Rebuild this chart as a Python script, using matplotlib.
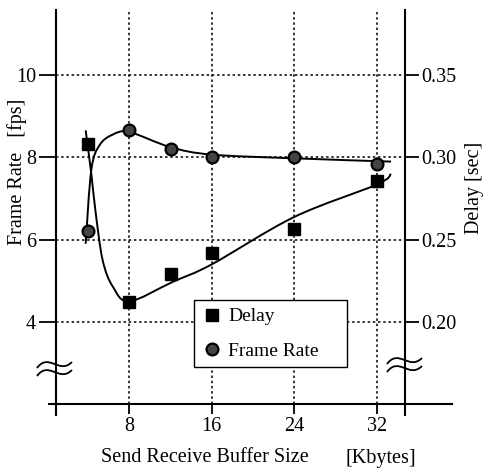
import matplotlib
matplotlib.use("Agg")
import matplotlib.pyplot as plt
from matplotlib.path import Path
from matplotlib.patches import PathPatch

plt.rcParams['font.family'] = ['Liberation Serif', 'DejaVu Serif']

# measured points
buffer_kb = [4, 8, 12, 16, 24, 32]
frame_rate = [6.2, 8.67, 8.2, 8.02, 8.0, 7.85]
delay = [0.308, 0.212, 0.229, 0.2416, 0.2567, 0.286]

# hand drawn fit curves (knots)
fr_fit_x = [3.75, 4.3, 5.1, 6.4, 8, 12, 16, 24, 33.4]
fr_fit_y = [5.9, 7.7, 8.3, 8.56, 8.62, 8.25, 8.07, 7.98, 7.9]
delay_fit_x = [3.75, 4.3, 4.7, 5.4, 6.4, 8, 12.2, 16, 24, 32, 33.4]
delay_fit_y = [0.3165, 0.29, 0.2675, 0.2375, 0.2213, 0.2125, 0.2243, 0.235, 0.2638, 0.2835, 0.29]

x_ticks = [8, 16, 24, 32]
fr_ticks = [4, 6, 8, 10]
delay_ticks = [0.20, 0.25, 0.30, 0.35]

W, H = 484, 471
fig = plt.figure(figsize=(W / 100, H / 100), dpi=100)
ax = fig.add_axes([56 / W, 1 - 404 / H, 349 / W, 394 / H])
ax2 = ax.twinx()

ax.set_xlim(0.87, 34.76)
ax.set_ylim(2.0, 11.59)
ax2.set_ylim(0.15, 0.38975)


def smooth_path(xs, ys):
    pts = list(zip(xs, ys))
    verts = [pts[0]]
    codes = [Path.MOVETO]
    for i in range(len(pts) - 1):
        p0 = pts[i - 1] if i > 0 else pts[i]
        p1 = pts[i]
        p2 = pts[i + 1]
        p3 = pts[i + 2] if i + 2 < len(pts) else pts[i + 1]
        c1 = (p1[0] + (p2[0] - p0[0]) / 6, p1[1] + (p2[1] - p0[1]) / 6)
        c2 = (p2[0] - (p3[0] - p1[0]) / 6, p2[1] - (p3[1] - p1[1]) / 6)
        verts += [c1, c2, p2]
        codes += [Path.CURVE4] * 3
    return Path(verts, codes)


# grid
dots = (0, (1.6, 1.8))
for v in fr_ticks:
    ax.axhline(v, color='black', lw=1.1, ls=dots, zorder=0)
for v in x_ticks:
    ax.axvline(v, color='black', lw=1.1, ls=dots, zorder=0)

# fit curves
ax.add_patch(PathPatch(smooth_path(fr_fit_x, fr_fit_y), fill=False, lw=1.4, color='black'))
ax2.add_patch(PathPatch(smooth_path(delay_fit_x, delay_fit_y), fill=False, lw=1.4, color='black'))

# points
fr_line, = ax.plot(buffer_kb, frame_rate, ls='none', marker='o', ms=8.5,
                   mfc='#444444', mec='black', mew=1.6, label='Frame Rate', zorder=4)
d_line, = ax2.plot(buffer_kb, delay, ls='none', marker='s', ms=8,
                   color='black', label='Delay', zorder=4)

# axes look
for sp in ['top', 'bottom', 'right']:
    ax.spines[sp].set_visible(False)
for sp in ['top', 'bottom', 'left']:
    ax2.spines[sp].set_visible(False)
ax.spines['left'].set_linewidth(1.5)
ax2.spines['right'].set_linewidth(1.5)

ax.plot([0, 0], [-0.028, 0], transform=ax.transAxes, color='black', lw=1.5, clip_on=False)
ax.plot([1, 1], [-0.028, 0], transform=ax.transAxes, color='black', lw=1.5, clip_on=False)
ax.plot([-0.02, 1.135], [0, 0], transform=ax.transAxes, color='black', lw=1.5, clip_on=False)

ax.set_xticks(x_ticks)
ax.set_yticks(fr_ticks)
ax2.set_yticks(delay_ticks)
ax2.set_yticklabels(['%.2f' % v for v in delay_ticks])
ax.tick_params(axis='y', direction='out', length=12.5, width=1.3, labelsize=14.5, pad=2)
ax.tick_params(axis='x', direction='out', length=7.5, width=1.3, labelsize=14.5, pad=2)
ax2.tick_params(axis='y', direction='out', length=10, width=1.3, labelsize=14.5, pad=2)

# axis break marks
def brk(px, py):
    for dy in (-4, 4):
        pts = [(px - 18, py + 4 + dy), (px - 6, py - 12 + dy), (px + 4, py + 11 + dy), (px + 17, py - 2 + dy)]
        verts = [(x / W, 1 - y / H) for x, y in pts]
        fig.add_artist(PathPatch(Path(verts, [Path.MOVETO] + [Path.CURVE4] * 3),
                                 fill=False, lw=1.3, color='black', transform=fig.transFigure))


brk(55, 368)
brk(405, 364)

# labels
fig.text(17 / W, 1 - 172 / H, 'Frame Rate   [fps]', rotation=90, ha='center', va='center', fontsize=14.5)
fig.text(474 / W, 1 - 188 / H, 'Delay [sec]', rotation=90, ha='center', va='center', fontsize=14.5)
fig.text(205 / W, 1 - 458 / H, 'Send Receive Buffer Size', ha='center', va='center', fontsize=14.5)
fig.text(381 / W, 1 - 458 / H, '[Kbytes]', ha='center', va='center', fontsize=14.5)

leg = ax2.legend([d_line, fr_line], ['Delay', 'Frame Rate'], loc='upper left',
                 bbox_to_anchor=(194 / W, 1 - 368 / H, 153 / W, 68 / H),
                 bbox_transform=fig.transFigure, mode='expand', borderaxespad=0,
                 fancybox=False, edgecolor='black', framealpha=1, fontsize=14,
                 handlelength=1.0, handletextpad=0.35, borderpad=0.4, labelspacing=0.85)
leg.get_frame().set_linewidth(1.0)
leg.set_zorder(10)

fig.savefig('out.png', dpi=100)
